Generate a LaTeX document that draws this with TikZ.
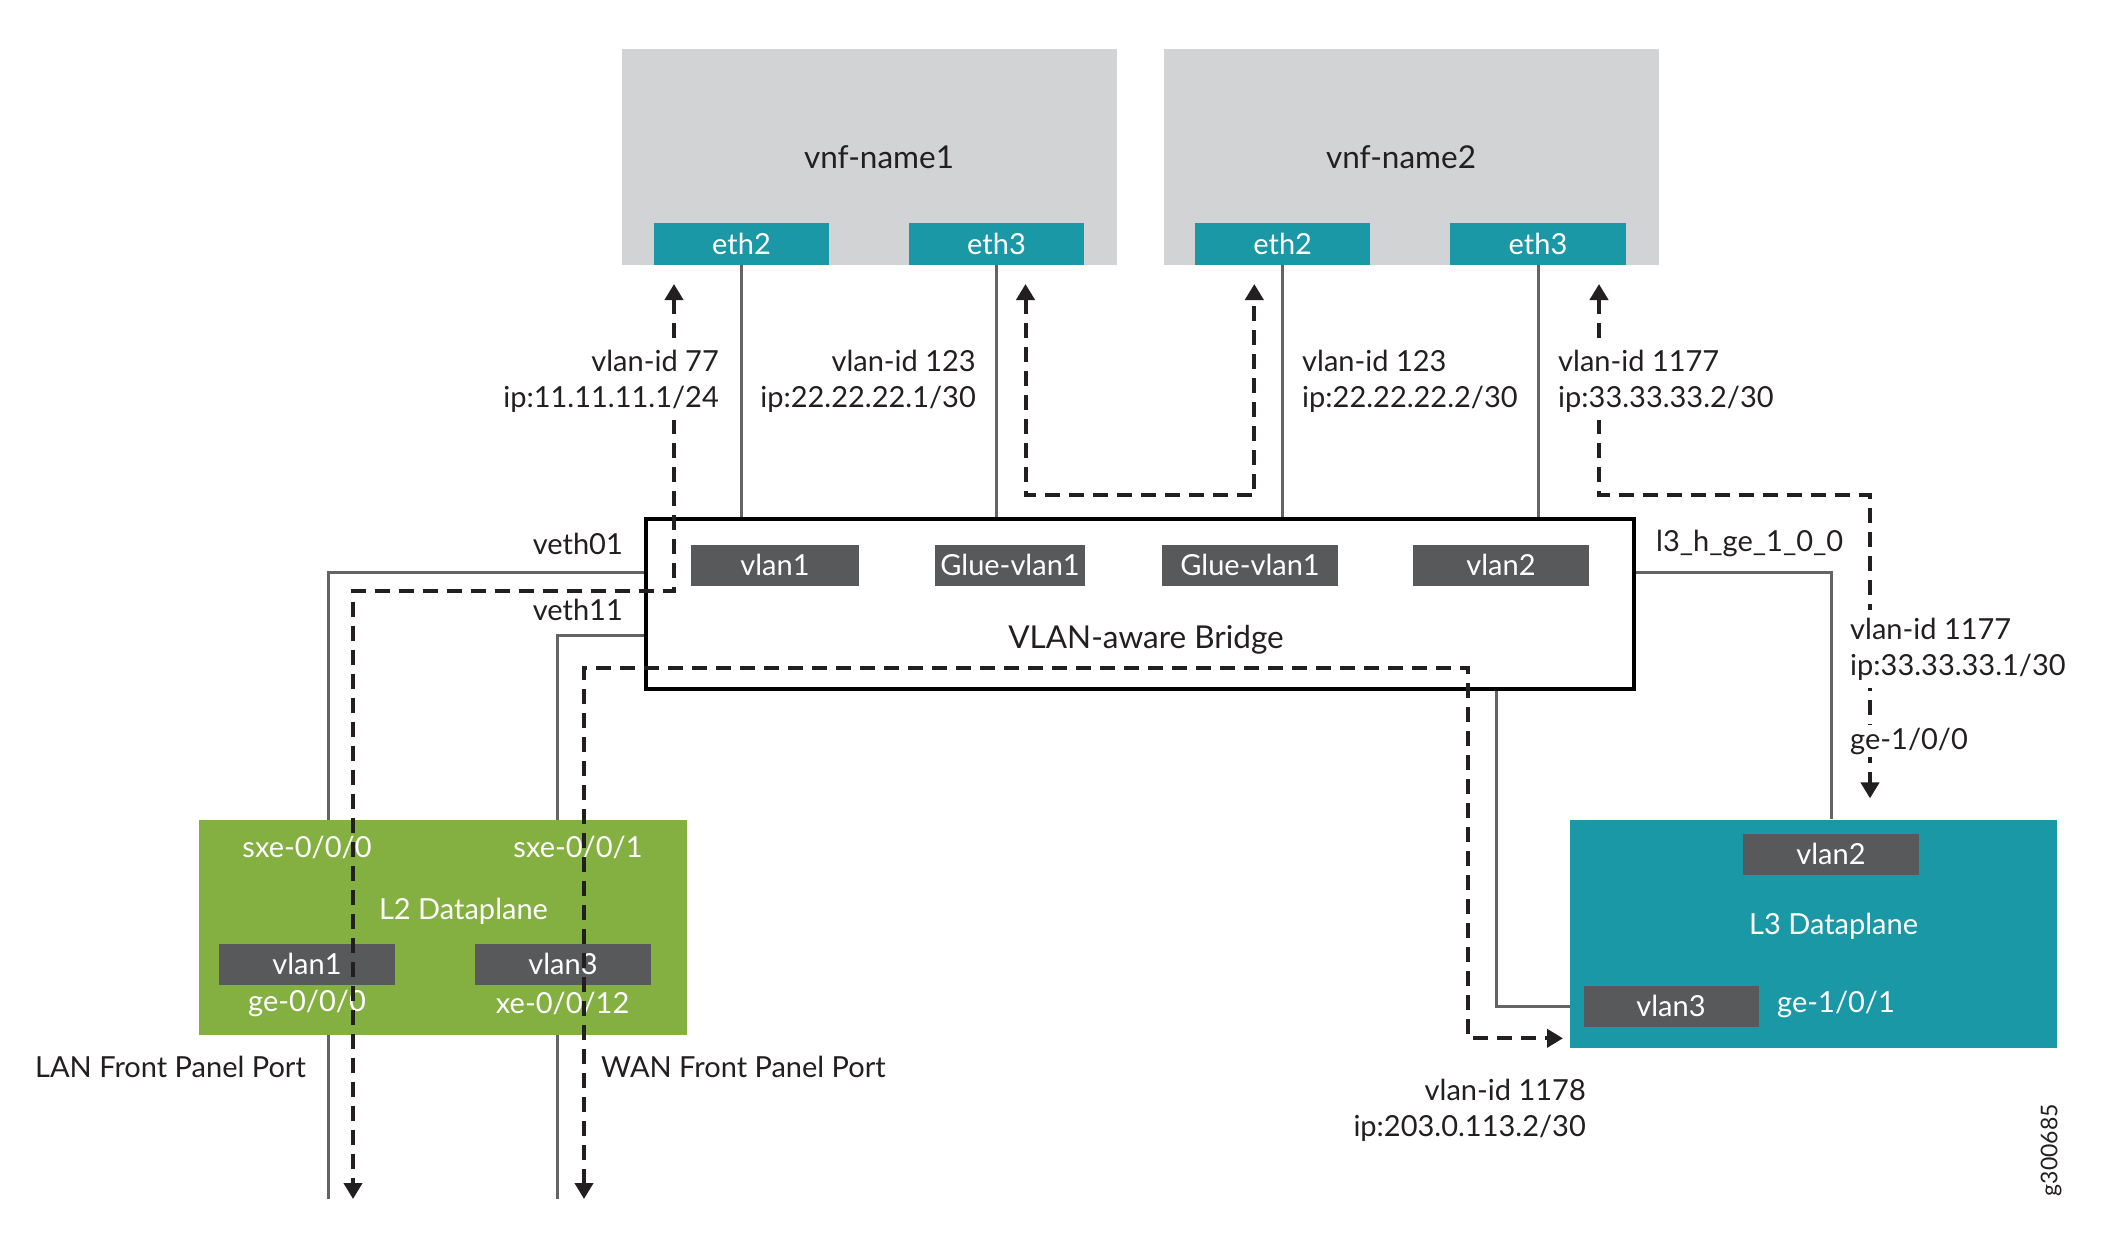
\documentclass[tikz,border=0pt]{standalone}
\usepackage{fontspec}
\setmainfont{Lato}
\usetikzlibrary{arrows.meta}
\definecolor{vnfgray}{HTML}{D1D3D4}
\definecolor{jteal}{HTML}{1B98A6}
\definecolor{jgreen}{HTML}{84AF41}
\definecolor{jdark}{HTML}{58595B}
\definecolor{jline}{HTML}{636466}
\definecolor{jtext}{HTML}{231F20}
\newcommand\labfont{\fontsize{29}{36}\selectfont}
\newcommand\titlefont{\fontsize{31.5}{38}\selectfont}
\tikzset{
  vnfbox/.style={fill=vnfgray, inner sep=0, draw=none},
  portbox/.style={fill=jteal, text=white, minimum height=41.6pt, inner sep=0, font=\labfont},
  tagbox/.style={fill=jdark, text=white, minimum height=41pt, inner sep=0, font=\labfont},
  lbl/.style={text=jtext, inner sep=0, font=\labfont},
  ttl/.style={text=jtext, inner sep=0, font=\titlefont},
  wlbl/.style={text=white, inner sep=0, font=\labfont},
  mask/.style={fill=white, inner xsep=0, inner ysep=8pt},
  solidline/.style={draw=jline, line width=3pt},
  flow/.style={draw=jtext, line width=4pt, dash pattern=on 15pt off 9pt,
    {Triangle[width=18pt,length=16pt]}-{Triangle[width=18pt,length=16pt]}},
}
\begin{document}
\begin{tikzpicture}[x=1pt,y=-1pt]
\useasboundingbox (0,0) rectangle (2101,1250);
\fill[white] (0,0) rectangle (2101,1250);

% VNF boxes
\node[vnfbox, minimum width=495.5pt, minimum height=215.6pt] (vnf1) at (869.25,156.8) {};
\node[vnfbox, minimum width=495.5pt, minimum height=215.6pt] (vnf2) at (1411.7,156.8) {};
\node[ttl] (vnf1t) at (879,157) {vnf-name1};
\node[ttl] (vnf2t) at (1401,157) {vnf-name2};
\node[portbox, minimum width=175.5pt] (v1e2) at (741.5,243.8) {eth2};
\node[portbox, minimum width=175.5pt] (v1e3) at (996.5,243.8) {eth3};
\node[portbox, minimum width=175.5pt] (v2e2) at (1282.7,243.8) {eth2};
\node[portbox, minimum width=175.5pt] (v2e3) at (1538,243.8) {eth3};

% Bridge
\node[draw=black, line width=4pt, fill=white, minimum width=988pt, minimum height=170pt, inner sep=0] (bridge) at (1140,604) {};
\node[tagbox, minimum width=168pt] (bv1) at (775,565.4) {vlan1};
\node[tagbox, minimum width=150.5pt] (bg1) at (1010,565.4) {Glue-vlan1};
\node[tagbox, minimum width=176pt] (bg2) at (1250,565.4) {Glue-vlan1};
\node[tagbox, minimum width=176pt] (bv2) at (1501,565.4) {vlan2};
\node[ttl] (bt) at (1146,640) {VLAN-aware Bridge};

% coordinates
\coordinate (vethA) at (0,572);
\coordinate (vethB) at (0,635);
\coordinate (lanbot) at (328,1199);
\coordinate (wanbot) at (557,1199);
\coordinate (brx) at (1496,0);

% solid links eth -> bridge
\draw[solidline] (v1e2.south) -- (v1e2.south |- bridge.north);
\draw[solidline] (v1e3.south) -- (v1e3.south |- bridge.north);
\draw[solidline] (v2e2.south) -- (v2e2.south |- bridge.north);
\draw[solidline] (v2e3.south) -- (v2e3.south |- bridge.north);

% L2 / L3 boxes
\draw[solidline] (bridge.west |- vethA) -| (lanbot);
\draw[solidline] (bridge.west |- vethB) -| (wanbot);

\node[fill=jgreen, inner sep=0, minimum width=487.5pt, minimum height=215.2pt] (L2) at (442.75,927.1) {};
\node[fill=jteal, inner sep=0, minimum width=487pt, minimum height=228pt] (L3) at (1813.9,933.5) {};

\node[wlbl] (sxe0) at (307,847) {sxe-0/0/0};
\node[wlbl] (sxe1) at (578,847) {sxe-0/0/1};
\node[wlbl] (l2t) at (463.5,911) {L2 Dataplane};
\node[tagbox, minimum width=176pt] (l2v1) at (307,964) {vlan1};
\node[tagbox, minimum width=176pt] (l2v3) at (563,964) {vlan3};
\node[wlbl] (ge000) at (307,1003.6) {ge-0/0/0};
\node[wlbl] (xe0012) at (562.6,1003.6) {xe-0/0/12};

\node[tagbox, minimum width=176pt] (l3v2) at (1831,854) {vlan2};
\node[wlbl] (l3t) at (1833.6,926) {L3 Dataplane};
\node[tagbox, minimum width=175pt] (l3v3) at (1671,1006) {vlan3};
\node[wlbl, anchor=west] (ge101) at (1777,1004.4) {ge-1/0/1};

\draw[solidline] (bridge.east |- vethA) -| (l3v2.north |- L3.north);
\draw[solidline] (bridge.south -| brx) |- (L3.west |- l3v3);

% dashed flows
\coordinate (f1top) at (674,284);
\coordinate (f1b) at (353,591);
\coordinate (f1bot) at (353,1199);
\draw[flow] (f1top) |- (f1b) -- (f1bot);

\coordinate (f2a) at (1025.5,284);
\coordinate (f2m) at (1254.3,495.4);
\coordinate (f2b) at (1254.3,284);
\draw[flow] (f2a) |- (f2m) -- (f2b);

\coordinate (f3a) at (1599,284);
\coordinate (f3m) at (1870,495.4);
\coordinate (f3b) at (1870,798.4);
\draw[flow] (f3a) |- (f3m) -- (f3b);

\coordinate (f4a) at (584,1199);
\coordinate (f4m) at (1468,667.6);
\coordinate (f4b) at (1563,1038.3);
\draw[flow] (f4a) |- (f4m) |- (f4b);

% labels
\node[lbl, mask, align=right, anchor=east] (lab77) at (719,381) {vlan-id 77\\ip:11.11.11.1/24};
\node[lbl, mask, align=right, anchor=east] (lab123a) at (976,381) {vlan-id 123\\ip:22.22.22.1/30};
\node[lbl, mask, align=left, anchor=west] (lab123b) at (1302,381) {vlan-id 123\\ip:22.22.22.2/30};
\node[lbl, mask, align=left, anchor=west] (lab1177a) at (1558,381) {vlan-id 1177\\ip:33.33.33.2/30};
\node[lbl, anchor=east] (veth01) at (623,544) {veth01};
\node[lbl, anchor=east] (veth11) at (623,610) {veth11};
\node[lbl, anchor=west] (l3h) at (1656,543) {l3\_h\_ge\_1\_0\_0};
\node[lbl, mask, align=left, anchor=west] (lab1177b) at (1850,649) {vlan-id 1177\\ip:33.33.33.1/30};
\node[lbl, fill=white, inner xsep=0, inner ysep=3pt, anchor=west] (ge100) at (1850,741) {ge-1/0/0};
\node[lbl, align=right, anchor=east] (lab1178) at (1586,1110) {vlan-id 1178\\ip:203.0.113.2/30};
\node[lbl, anchor=east] (lan) at (306,1067) {LAN Front Panel Port};
\node[lbl, anchor=west] (wan) at (601,1067) {WAN Front Panel Port};
\node[text=jtext, inner sep=0, rotate=90, font=\fontsize{23}{27}\selectfont] (gid) at (2051,1150) {g300685};
\end{tikzpicture}
\end{document}
